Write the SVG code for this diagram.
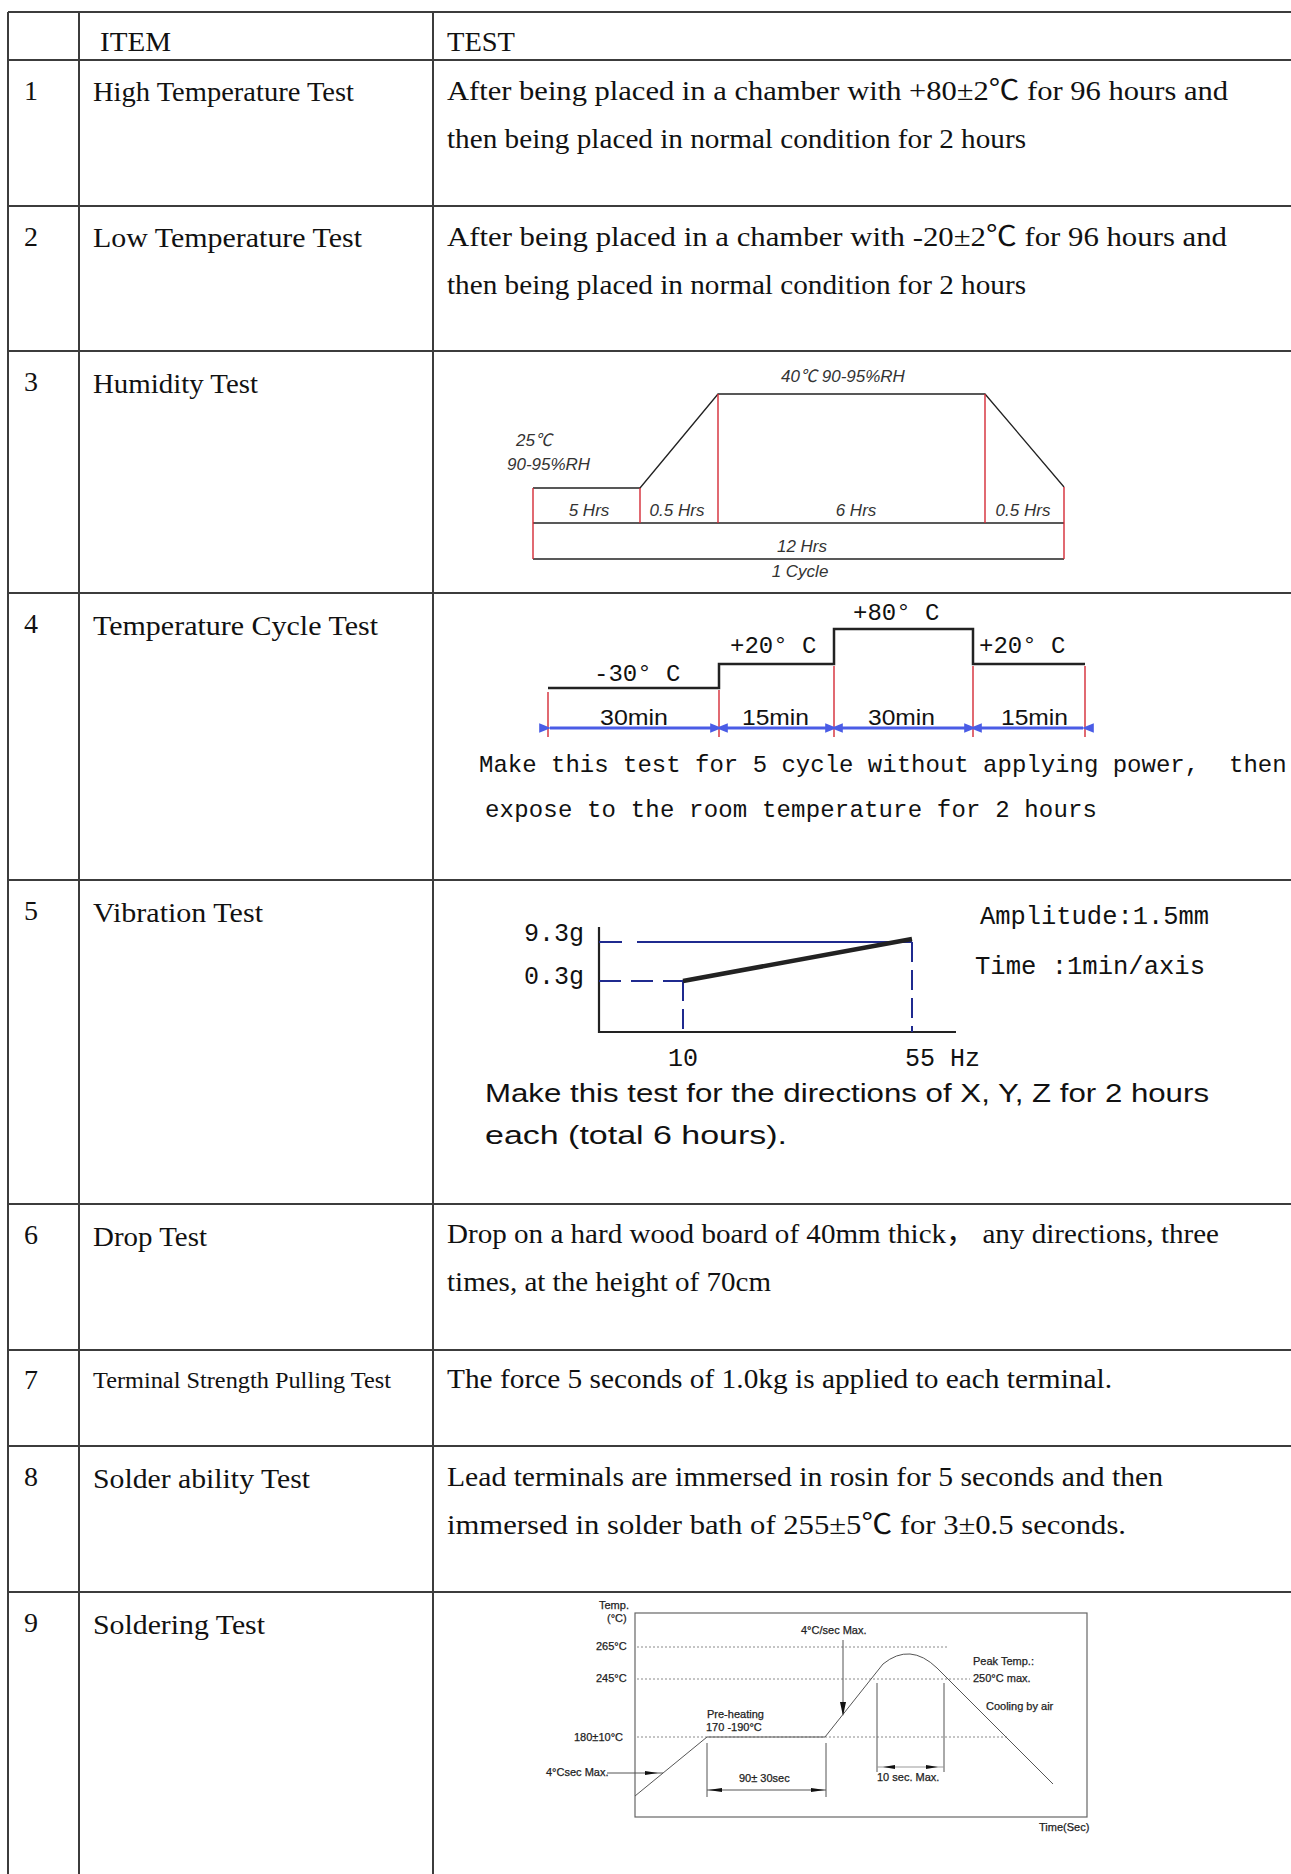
<svg xmlns="http://www.w3.org/2000/svg" width="1291" height="1874" viewBox="0 0 1291 1874">
<style>
.grid{stroke:#3c3c3c;stroke-width:2;fill:none}
.serif{font-family:"Liberation Serif","Noto Sans CJK SC",serif;font-size:28px;fill:#111}
.small{font-size:23px}
.mono{font-family:"Liberation Mono","Noto Sans CJK SC",monospace;font-size:24px;fill:#111}
.mono25{font-family:"Liberation Mono","Noto Sans CJK SC",monospace;font-size:25px;fill:#111}
.hum{font-family:"Liberation Sans","Noto Sans CJK SC",sans-serif;font-size:17px;font-style:italic;fill:#333}
.sans{font-family:"Liberation Sans","Noto Sans CJK SC",sans-serif;fill:#111}
.sol{font-family:"Liberation Sans","Noto Sans CJK SC",sans-serif;font-size:11px;fill:#222;stroke:#222;stroke-width:0.25}
.blk{stroke:#222;fill:none}
.red{stroke:#d42a35;stroke-width:1.4;fill:none}
.blue{stroke:#4a5ce6;stroke-width:3;fill:none}
.navy{stroke:#1f2a8f;stroke-width:2;fill:none}
.dot{stroke:#8a8a8a;stroke-width:1;stroke-dasharray:2 2;fill:none}
.sl{stroke:#555;stroke-width:1;fill:none}
</style>
<defs>
<marker id="barrow" viewBox="0 0 10 8" refX="1" refY="4" markerWidth="4" markerHeight="3.2" orient="auto-start-reverse">
<path d="M0 4 L10 0 L10 8 Z" fill="#4a5ce6"/>
</marker>
</defs>

<g id="table">
<line class="grid" x1="8" y1="12" x2="8" y2="1874"/>
<line class="grid" x1="79" y1="12" x2="79" y2="1874"/>
<line class="grid" x1="433" y1="12" x2="433" y2="1874"/>
<line class="grid" x1="8" y1="12" x2="1291" y2="12"/>
<line class="grid" x1="8" y1="60" x2="1291" y2="60"/>
<line class="grid" x1="8" y1="206" x2="1291" y2="206"/>
<line class="grid" x1="8" y1="351" x2="1291" y2="351"/>
<line class="grid" x1="8" y1="593" x2="1291" y2="593"/>
<line class="grid" x1="8" y1="880" x2="1291" y2="880"/>
<line class="grid" x1="8" y1="1204" x2="1291" y2="1204"/>
<line class="grid" x1="8" y1="1350" x2="1291" y2="1350"/>
<line class="grid" x1="8" y1="1446" x2="1291" y2="1446"/>
<line class="grid" x1="8" y1="1592" x2="1291" y2="1592"/>
</g>

<g id="header">
<text class="serif" x="100" y="51" textLength="71" lengthAdjust="spacingAndGlyphs">ITEM</text>
<text class="serif" x="447" y="51" textLength="68" lengthAdjust="spacingAndGlyphs">TEST</text>
</g>

<g id="row1">
<text class="serif" x="24" y="100">1</text>
<text class="serif" x="93" y="101" textLength="261" lengthAdjust="spacingAndGlyphs">High Temperature Test</text>
<text class="serif" x="447" y="100" textLength="781" lengthAdjust="spacingAndGlyphs">After being placed in a chamber with +80±2℃ for 96 hours and</text>
<text class="serif" x="447" y="148" textLength="579" lengthAdjust="spacingAndGlyphs">then being placed in normal condition for 2 hours</text>
</g>

<g id="row2">
<text class="serif" x="24" y="246">2</text>
<text class="serif" x="93" y="247" textLength="269" lengthAdjust="spacingAndGlyphs">Low Temperature Test</text>
<text class="serif" x="447" y="246" textLength="780" lengthAdjust="spacingAndGlyphs">After being placed in a chamber with -20±2℃ for 96 hours and</text>
<text class="serif" x="447" y="294" textLength="579" lengthAdjust="spacingAndGlyphs">then being placed in normal condition for 2 hours</text>
</g>

<g id="row3">
<text class="serif" x="24" y="391">3</text>
<text class="serif" x="93" y="393" textLength="165" lengthAdjust="spacingAndGlyphs">Humidity Test</text>
<g id="humidity-chart">
<path class="blk" stroke-width="1.3" d="M533 488 H640 L718 394 H985 L1064 487"/>
<line class="blk" stroke-width="1.3" x1="533" y1="523" x2="1064" y2="523"/>
<line class="blk" stroke-width="1.3" x1="533" y1="559" x2="1064" y2="559"/>
<line class="red" x1="533" y1="488" x2="533" y2="559"/>
<line class="red" x1="640" y1="488" x2="640" y2="523"/>
<line class="red" x1="718" y1="394" x2="718" y2="523"/>
<line class="red" x1="985" y1="394" x2="985" y2="523"/>
<line class="red" x1="1064" y1="487" x2="1064" y2="559"/>
<text class="hum" x="843" y="382" text-anchor="middle">40℃ 90-95%RH</text>
<text class="hum" x="516" y="446">25℃</text>
<text class="hum" x="507" y="470">90-95%RH</text>
<text class="hum" x="589" y="516" text-anchor="middle">5 Hrs</text>
<text class="hum" x="677" y="516" text-anchor="middle">0.5 Hrs</text>
<text class="hum" x="856" y="516" text-anchor="middle">6 Hrs</text>
<text class="hum" x="1023" y="516" text-anchor="middle">0.5 Hrs</text>
<text class="hum" x="802" y="552" text-anchor="middle">12 Hrs</text>
<text class="hum" x="800" y="577" text-anchor="middle">1 Cycle</text>
</g>
</g>

<g id="row4">
<text class="serif" x="24" y="633">4</text>
<text class="serif" x="93" y="635" textLength="285" lengthAdjust="spacingAndGlyphs">Temperature Cycle Test</text>
<g id="cycle-chart">
<path class="blk" stroke-width="2.5" d="M548 688 H719 V664 H834 V629 H973 V664 H1085"/>
<line class="red" x1="548" y1="692" x2="548" y2="737"/>
<line class="red" x1="719" y1="690" x2="719" y2="737"/>
<line class="red" x1="834" y1="666" x2="834" y2="737"/>
<line class="red" x1="973" y1="666" x2="973" y2="737"/>
<line class="red" x1="1085" y1="666" x2="1085" y2="737"/>
<g class="blue" marker-start="url(#barrow)" marker-end="url(#barrow)">
<line x1="550" y1="728" x2="717" y2="728"/>
<line x1="721" y1="728" x2="832" y2="728"/>
<line x1="836" y1="728" x2="971" y2="728"/>
<line x1="975" y1="728" x2="1083" y2="728"/>
</g>
<text class="mono" x="594" y="681">-30° C</text>
<text class="mono" x="730" y="653">+20° C</text>
<text class="mono" x="853" y="620">+80° C</text>
<text class="mono" x="979" y="653">+20° C</text>
<text class="sans" font-size="22" x="600" y="725" textLength="68" lengthAdjust="spacingAndGlyphs">30min</text>
<text class="sans" font-size="22" x="742" y="725" textLength="67" lengthAdjust="spacingAndGlyphs">15min</text>
<text class="sans" font-size="22" x="868" y="725" textLength="67" lengthAdjust="spacingAndGlyphs">30min</text>
<text class="sans" font-size="22" x="1001" y="725" textLength="67" lengthAdjust="spacingAndGlyphs">15min</text>
</g>
<text class="mono" x="479" y="772">Make this test for 5 cycle without applying power, <tspan x="1229">then</tspan></text>
<text class="mono" x="485" y="817" textLength="612" lengthAdjust="spacing">expose to the room temperature for 2 hours</text>
</g>

<g id="row5">
<text class="serif" x="24" y="920">5</text>
<text class="serif" x="93" y="922" textLength="170" lengthAdjust="spacingAndGlyphs">Vibration Test</text>
<g id="vibration-chart">
<path class="blk" stroke-width="2.2" d="M599 927 V1032 H956"/>
<line class="navy" x1="599" y1="942" x2="622" y2="942"/>
<line class="navy" x1="637" y1="942" x2="912" y2="942"/>
<line class="navy" x1="599" y1="981" x2="683" y2="981" stroke-dasharray="22 10"/>
<line class="navy" x1="683" y1="981" x2="683" y2="1032" stroke-dasharray="20 8"/>
<line class="navy" x1="912" y1="942" x2="912" y2="1032" stroke-dasharray="20 8"/>
<line class="blk" stroke-width="4.5" x1="683" y1="981" x2="912" y2="939"/>
<text class="mono25" x="524" y="941">9.3g</text>
<text class="mono25" x="524" y="984">0.3g</text>
<text class="mono25" x="668" y="1066">10</text>
<text class="mono25" x="905" y="1066">55 Hz</text>
<text class="mono25" x="980" y="924" textLength="229" lengthAdjust="spacingAndGlyphs">Amplitude:1.5mm</text>
<text class="mono25" x="975" y="974" textLength="230" lengthAdjust="spacingAndGlyphs">Time :1min/axis</text>
</g>
<text class="sans" font-size="25" x="485" y="1102" textLength="724" lengthAdjust="spacingAndGlyphs">Make this test for the directions of X, Y, Z for 2 hours</text>
<text class="sans" font-size="25" x="485" y="1144" textLength="302" lengthAdjust="spacingAndGlyphs">each (total 6 hours).</text>
</g>

<g id="row6">
<text class="serif" x="24" y="1244">6</text>
<text class="serif" x="93" y="1246" textLength="114" lengthAdjust="spacingAndGlyphs">Drop Test</text>
<text class="serif" x="447" y="1243" textLength="772" lengthAdjust="spacingAndGlyphs">Drop on a hard wood board of 40mm thick， any directions, three</text>
<text class="serif" x="447" y="1291" textLength="324" lengthAdjust="spacingAndGlyphs">times, at the height of 70cm</text>
</g>

<g id="row7">
<text class="serif" x="24" y="1389">7</text>
<text class="serif small" x="93" y="1388" textLength="298" lengthAdjust="spacingAndGlyphs">Terminal Strength Pulling Test</text>
<text class="serif" x="447" y="1388" textLength="665" lengthAdjust="spacingAndGlyphs">The force 5 seconds of 1.0kg is applied to each terminal.</text>
</g>

<g id="row8">
<text class="serif" x="24" y="1486">8</text>
<text class="serif" x="93" y="1488" textLength="217" lengthAdjust="spacingAndGlyphs">Solder ability Test</text>
<text class="serif" x="447" y="1486" textLength="716" lengthAdjust="spacingAndGlyphs">Lead terminals are immersed in rosin for 5 seconds and then</text>
<text class="serif" x="447" y="1534" textLength="679" lengthAdjust="spacingAndGlyphs">immersed in solder bath of 255±5℃  for 3±0.5 seconds.</text>
</g>

<g id="row9">
<text class="serif" x="24" y="1632">9</text>
<text class="serif" x="93" y="1634" textLength="172" lengthAdjust="spacingAndGlyphs">Soldering Test</text>
<g id="soldering-chart">
<rect x="635" y="1613" width="452" height="204" fill="none" stroke="#666" stroke-width="1.2"/>
<line class="dot" x1="637" y1="1647" x2="948" y2="1647"/>
<line class="dot" x1="637" y1="1679" x2="970" y2="1679"/>
<line class="dot" x1="637" y1="1737" x2="1007" y2="1737"/>
<path class="sl" d="M635 1796 L707 1737 L825 1737 L883 1664 Q910 1642 937 1668 L1053 1784"/>
<line class="sl" x1="843" y1="1640" x2="843" y2="1714"/>
<path d="M840 1702 L846 1702 L843 1716 Z" fill="#111"/>
<line class="sl" x1="607" y1="1773" x2="663" y2="1773"/>
<path d="M645 1771 L645 1775 L658 1773 Z" fill="#111"/>
<line class="sl" x1="707" y1="1743" x2="707" y2="1797"/>
<line class="sl" x1="826" y1="1743" x2="826" y2="1797"/>
<line class="sl" x1="707" y1="1790" x2="826" y2="1790"/>
<path d="M708 1790 L722 1788 L722 1792 Z" fill="#111"/>
<path d="M825 1790 L811 1788 L811 1792 Z" fill="#111"/>
<line class="sl" x1="877" y1="1683" x2="877" y2="1772"/>
<line class="sl" x1="944" y1="1683" x2="944" y2="1772"/>
<line x1="877" y1="1767" x2="944" y2="1767" stroke="#999" stroke-width="1"/>
<path d="M883 1767 L895 1765 L895 1769 Z" fill="#111"/>
<path d="M938 1767 L926 1765 L926 1769 Z" fill="#111"/>
<text class="sol" x="599" y="1609">Temp.</text>
<text class="sol" x="607" y="1622">(°C)</text>
<text class="sol" x="596" y="1650">265°C</text>
<text class="sol" x="596" y="1682">245°C</text>
<text class="sol" x="574" y="1741">180±10°C</text>
<text class="sol" x="546" y="1776">4°Csec Max.</text>
<text class="sol" x="707" y="1718">Pre-heating</text>
<text class="sol" x="706" y="1731">170 -190°C</text>
<text class="sol" x="801" y="1634">4°C/sec Max.</text>
<text class="sol" x="973" y="1665">Peak Temp.:</text>
<text class="sol" x="973" y="1682">250°C max.</text>
<text class="sol" x="986" y="1710">Cooling by air</text>
<text class="sol" x="739" y="1782">90± 30sec</text>
<text class="sol" x="877" y="1781">10 sec. Max.</text>
<text class="sol" x="1039" y="1831">Time(Sec)</text>
</g>
</g>
</svg>
